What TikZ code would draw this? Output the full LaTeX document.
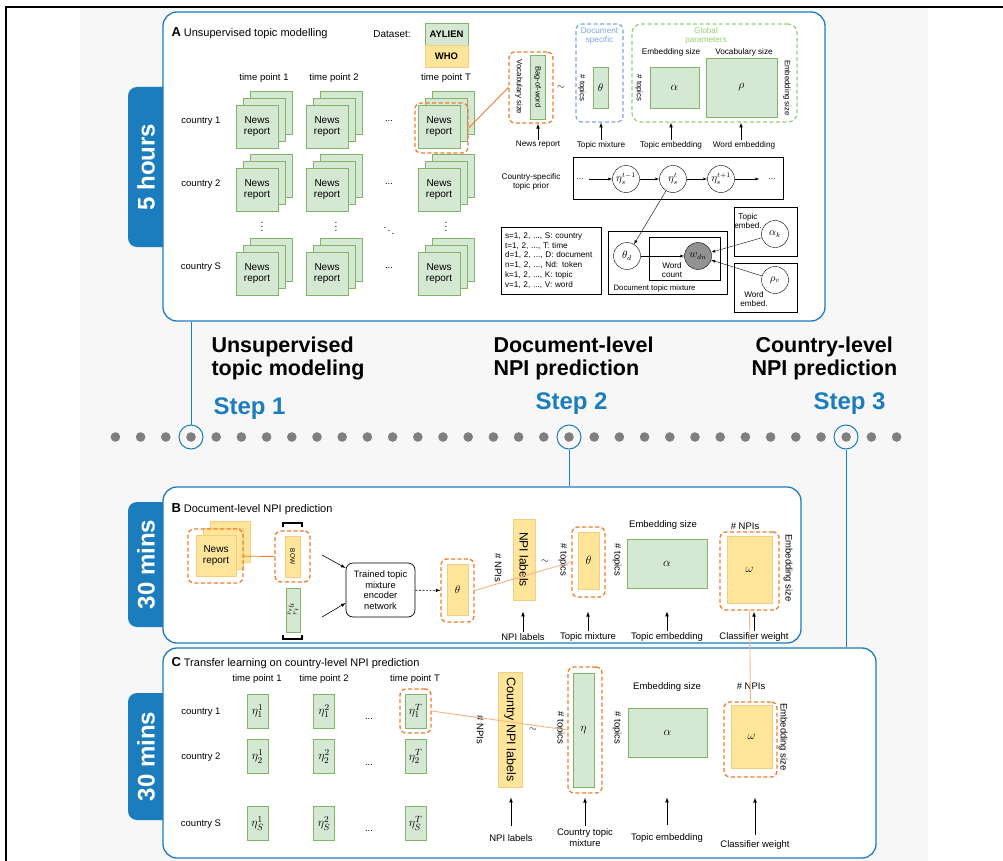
\documentclass[tikz,border=0pt]{standalone}
\usepackage{fontspec}
\setmainfont{Liberation Sans}
\usepackage{amsmath}

\definecolor{stepblue}{HTML}{1B7DBE}
\definecolor{bggray}{HTML}{F7F7F7}
\definecolor{gfill}{HTML}{D5E8D4}
\definecolor{gline}{HTML}{82B366}
\definecolor{yfill}{HTML}{FFE59A}
\definecolor{yline}{HTML}{F0D080}
\definecolor{selorange}{HTML}{F07D2C}
\definecolor{lightorange}{HTML}{F6B585}
\definecolor{docblue}{HTML}{7EA6E0}
\definecolor{globgreen}{HTML}{97D077}
\definecolor{dotgray}{HTML}{7F7F7F}
\definecolor{wgray}{HTML}{929292}

\begin{document}
\begin{tikzpicture}[x=1pt,y=-1pt,
  panel/.style={draw=stepblue,line width=1.3pt,fill=white,rounded corners=14pt,inner sep=0pt},
  tab/.style={fill=stepblue,rounded corners=9pt},
  tabtext/.style={rotate=90,text=white,font=\bfseries\fontsize{24}{26}\selectfont},
  gbox/.style={draw=gline,fill=gfill,line width=0.8pt,inner sep=0pt},
  ybox/.style={draw=yline,fill=yfill,line width=0.8pt,inner sep=0pt},
  sel/.style={draw=selorange,line width=1.3pt,dash pattern=on 4pt off 2.5pt,rounded corners=6pt,inner sep=0pt},
  title/.style={anchor=base west,font=\fontsize{11}{13}\selectfont},
  txt/.style={font=\fontsize{9.5}{11}\selectfont,align=center},
  lbl/.style={font=\fontsize{8.2}{9.5}\selectfont,align=center,inner sep=1pt},
  lblbig/.style={font=\fontsize{9.5}{11}\selectfont,align=center,inner sep=1pt},
  rot/.style={rotate=-90,font=\fontsize{7.8}{9}\selectfont},
  rotbig/.style={rotate=-90,font=\fontsize{9.5}{11}\selectfont},
  big/.style={font=\bfseries\fontsize{21.5}{23}\selectfont,anchor=base west},
  steptext/.style={font=\bfseries\fontsize{24}{26}\selectfont,text=stepblue,anchor=base west},
  var/.style={draw,circle,fill=white,minimum size=27pt,inner sep=0pt,font=\fontsize{10.5}{11}\selectfont},
  up/.style={-latex,line width=0.7pt},
  stepline/.style={draw=stepblue,line width=1pt},
]
\useasboundingbox (0,0) rectangle (1003,861);

% background and frame
\fill[bggray] (80,7) rectangle (928,861);
\draw[line width=1.5pt] (6,861) -- (6,7) -- (1003,7);

% ---------- panel A ----------
\fill[tab] (128,87) rectangle (185,247);
\node[panel,minimum width=662pt,minimum height=309pt] (panelA) at (494,166.5) {};
\node[tabtext] at (146,167) {5 hours};
\node[title] at (168,37) {\textbf{\fontsize{13}{13}\selectfont A}\hspace{3pt}Unsupervised topic modelling};

\node[txt,font=\fontsize{10}{12}\selectfont] at (392,34) {Dataset:};
\node[gbox,minimum width=43pt,minimum height=22pt,font=\bfseries\fontsize{9.5}{11}\selectfont] (aylien) at (446.5,34) {AYLIEN};
\node[ybox,minimum width=43pt,minimum height=22pt,font=\bfseries\fontsize{9.5}{11}\selectfont] (who) at (446.5,56) {WHO};

\foreach \x/\t in {264/1,334/2,446/T}
  \node[txt] at (\x,78) {time point \t};
\foreach \y/\c in {121/1,184/2,267/S}
  \node[txt] at (201,\y) {country \c};

% news report stacks
\foreach \x in {236,306,418}
  \foreach \y in {105,168,252} {
    \draw[gbox] (\x+14,\y-14) rectangle ++(42,43);
    \draw[gbox] (\x+7,\y-7) rectangle ++(42,43);
    \node[gbox,txt,font=\fontsize{10}{11.5}\selectfont,minimum width=42pt,minimum height=43pt] at (\x+21,\y+21.5) {News\\report};
  }
\foreach \y in {121,184,268}
  \node[txt] at (389,\y) {...};
\foreach \x in {262,336,446}
  \node at (\x,224) {$\vdots$};
\node at (389,228) {$\ddots$};

\node[sel,minimum width=53pt,minimum height=50pt] (selA) at (441.5,128) {};

% bag of word and parameters
\node[sel,minimum width=44pt,minimum height=71pt] (bowsel) at (531,87.5) {};
\node[gbox,minimum width=15pt,minimum height=64pt] (bow) at (537.5,87) {};
\node[rot,font=\fontsize{7.5}{9}\selectfont] at (bow) {Bag-of-word};
\node[rot] at (519,87) {Vocabulary size};
\draw[selorange,line width=0.9pt] (selA.east) -- (bowsel.west);
\node at (561,88) {$\sim$};

\node[draw=docblue,line width=1.2pt,dash pattern=on 4pt off 2.5pt,rounded corners=6pt,minimum width=47pt,minimum height=98pt] (docspec) at (599.5,73) {};
\node[lbl,text=docblue] at (599.5,36) {Document\\specific};
\node[rot] at (582,88) {\# topics};
\node[gbox,minimum width=15pt,minimum height=41pt,font=\fontsize{11}{11}\selectfont] (thetaA) at (600.5,87.5) {$\theta$};

\node[draw=globgreen,line width=1.2pt,dash pattern=on 4pt off 2.5pt,rounded corners=9pt,minimum width=165pt,minimum height=98pt] (global) at (714.5,73) {};
\node[lbl,text=globgreen] at (706,36) {Global\\parameters};
\node[lbl] at (671,52) {Embedding size};
\node[lbl] at (744,52) {Vocabulary size};
\node[rot] at (639,88) {\# topics};
\node[gbox,minimum width=49pt,minimum height=41pt,font=\fontsize{12}{12}\selectfont] (alphaA) at (674.5,87.5) {$\alpha$};
\node[gbox,minimum width=71pt,minimum height=59pt,font=\fontsize{12}{12}\selectfont] (rhoA) at (741.5,87.5) {$\rho$};
\node[rot] at (787,88) {Embedding size};

\node[lbl] (lnews) at (538,145) {News report};
\node[lbl] (lmix) at (601,145) {Topic mixture};
\node[lbl] (lemb) at (671,145) {Topic embedding};
\node[lbl] (lword) at (744,145) {Word embedding};
\draw[up] (lnews.north) -- (lnews.north |- bowsel.south);
\draw[up] (lmix.north) -- (lmix.north |- docspec.south);
\draw[up] (lemb.north) -- (lemb.north |- global.south);
\draw[up] ([xshift=-3pt]lword.north) -- ([xshift=-3pt]lword.north |- global.south);

% country-specific topic prior
\node[draw,line width=0.6pt,minimum width=210pt,minimum height=42pt] (prior) at (678,178) {};
\node[lbl] at (531,182) {Country-specific\\topic prior};
\node[lbl] (dl) at (580,179) {...};
\node[var] (eprev) at (626,179) {$\eta_s^{t-1}$};
\node[var] (ecur) at (673,179) {$\eta_s^{t}$};
\node[var] (enext) at (721,179) {$\eta_s^{t+1}$};
\node[lbl] (dr) at (772,179) {...};
\draw[-latex] ([xshift=4pt]dl.east) -- (eprev);
\draw[-latex] (eprev) -- (ecur);
\draw[-latex] (ecur) -- (enext);
\draw[-latex,shorten >=8pt] (enext) -- (dr);

% legend
\node[draw,line width=0.6pt,text width=92pt,align=left,inner xsep=4pt,minimum height=67pt,font=\fontsize{8.2}{9.8}\selectfont] (legend) at (551,260.5)
  {s=1, 2, ..., S: country\\t=1, 2, ..., T: time\\d=1, 2, ..., D: document\\n=1, 2, ..., Nd: token\\k=1, 2, ..., K: topic\\v=1, 2, ..., V: word};

% plate model
\node[draw,line width=0.6pt,minimum width=119pt,minimum height=63pt] (dtm) at (667.5,262.5) {};
\node[anchor=base west,font=\fontsize{7.8}{9}\selectfont] at (610,290) {Document topic mixture};
\node[draw,line width=0.6pt,minimum width=71pt,minimum height=43pt] (wcbox) at (684.5,258.5) {};
\node[lbl] at (672,270) {Word\\count};
\node[var] (thetad) at (627,256) {$\theta_d$};
\node[var,fill=wgray] (wdn) at (698,256) {$w_{dn}$};
\node[draw,line width=0.6pt,minimum width=63pt,minimum height=49pt] (tebox) at (765.5,231.5) {};
\node[lbl] at (748,221) {Topic\\embed.};
\node[var] (alphak) at (775,234) {$\alpha_k$};
\node[draw,line width=0.6pt,minimum width=63pt,minimum height=49pt] (webox) at (765.5,287.5) {};
\node[var] (rhov) at (775,280) {$\rho_v$};
\node[lbl] at (754,299) {Word\\embed.};
\draw[-latex] (ecur) -- (thetad);
\draw[-latex] (thetad) -- (wdn);
\draw[-latex] (alphak) -- (wdn);
\draw[-latex] (rhov) -- (wdn);

% ---------- steps ----------
\node[big] at (208,352) {Unsupervised};
\node[big] at (208,375) {topic modeling};
\node[big] at (490,352) {Document-level};
\node[big] at (490,375) {NPI prediction};
\node[big] at (752,352) {Country-level};
\node[big] at (748,375) {NPI prediction};
\node[steptext] at (210,414) {Step 1};
\node[steptext] at (532,409) {Step 2};
\node[steptext] at (810,409) {Step 3};

\foreach \k in {-3,...,28}
  \fill[dotgray] ({191+25.2*\k},437) circle (4.8pt);
\node[circle,stepline,minimum size=24pt] (s1) at (191,437) {};
\node[circle,stepline,minimum size=24pt] (s2) at (569,437) {};
\node[circle,stepline,minimum size=24pt] (s3) at (846,437) {};
\draw[stepline] (s1.north) -- (s1.north |- panelA.south);

% ---------- panel B ----------
\fill[tab] (128,502) rectangle (185,627);
\node[panel,minimum width=638pt,minimum height=156pt] (panelB) at (482,565) {};
\node[tabtext] at (146,564.5) {30 mins};
\node[title] at (168,512) {\textbf{\fontsize{13}{13}\selectfont B}\hspace{3pt}Document-level NPI prediction};
\draw[stepline] (s2.south) -- (s2.south |- panelB.north);

\draw[ybox] (210,521) rectangle ++(40,41);
\draw[ybox] (203,528) rectangle ++(40,41);
\node[ybox,txt,font=\fontsize{10}{11.5}\selectfont,minimum width=40pt,minimum height=41pt] (newsB) at (216,555.5) {News\\report};
\node[sel,minimum width=55pt,minimum height=54pt] (selnews) at (215.5,556) {};
\node[ybox,minimum width=15pt,minimum height=41pt] (bowB) at (292.5,556.5) {};
\node[rot,font=\fontsize{6.5}{8}\selectfont] at (bowB) {BOW};
\node[sel,minimum width=35pt,minimum height=51pt] (selbow) at (292.5,556.5) {};
\draw[selorange,line width=0.9pt] (selnews) -- (selbow);
\draw[line width=1.2pt] (283,527) -- (283,523) -- (302,523) -- (302,527);
\draw[line width=1.2pt] (283,635) -- (283,639) -- (302,639) -- (302,635);
\node[gbox,minimum width=14pt,minimum height=44pt] (etaB) at (293,610) {};
\node[rotate=-90,font=\fontsize{8.5}{9}\selectfont] at (etaB) {$\eta_{s_d}^{t_d}$};

\node[draw,line width=0.7pt,rounded corners=7pt,minimum width=69pt,minimum height=54pt,txt,font=\fontsize{9.3}{10.5}\selectfont] (enc) at (380.5,590) {Trained topic\\mixture\\encoder\\network};
\coordinate (inbow) at (322,555);
\coordinate (ineta) at (322,617);
\draw[-latex,line width=0.6pt] (inbow) -- ([yshift=22pt]enc.west);
\draw[-latex,line width=0.6pt] (ineta) -- ([yshift=-13pt]enc.west);

\node[ybox,minimum width=21pt,minimum height=51pt,font=\fontsize{11}{11}\selectfont] (thB) at (457.5,589.5) {$\theta$};
\node[sel,minimum width=33pt,minimum height=63pt] (thsel) at (457.5,590.5) {};
\draw[-latex,dash pattern=on 2pt off 1.5pt,line width=0.6pt] (enc) -- (thsel);

\node[rotbig] at (498,568) {\# NPIs};
\node[ybox,minimum width=22pt,minimum height=81pt] (npiB) at (524,559.5) {};
\node[rotate=-90,font=\fontsize{12}{14}\selectfont] at (npiB) {NPI labels};
\node at (545,562) {$\sim$};
\node[rotbig] at (563,560) {\# topics};
\node[ybox,minimum width=21pt,minimum height=57pt,font=\fontsize{12}{12}\selectfont] (th2B) at (588.5,560.5) {$\theta$};
\node[sel,minimum width=33pt,minimum height=70pt] (th2sel) at (588.5,562) {};
\draw[lightorange,line width=0.9pt] (thsel.east) -- (th2sel.west);
\node[rotbig] at (617,560) {\# topics};
\node[lblbig] at (663,525) {Embedding size};
\node[gbox,minimum width=80pt,minimum height=49pt,font=\fontsize{13}{13}\selectfont] (alphaB) at (667,563.5) {$\alpha$};
\node[lblbig] at (745,526) {\# NPIs};
\node[ybox,minimum width=45pt,minimum height=67pt,font=\fontsize{12}{12}\selectfont] (omB) at (749.5,569.5) {$\omega$};
\node[sel,minimum width=59pt,minimum height=78pt] (omsel) at (749.5,571) {};
\node[rotbig] at (788,568) {Embedding size};

\node[lblbig] (lnpiB) at (523,637) {NPI labels};
\node[lblbig] (lmixB) at (588,637) {Topic mixture};
\node[lblbig] (lembB) at (667,637) {Topic embedding};
\node[lblbig] (lclsB) at (754,637) {Classifier weight};
\draw[up,shorten >=11pt] (lnpiB.north) -- (lnpiB.north |- npiB.south);
\draw[up,shorten >=14pt] (lmixB.north) -- (lmixB.north |- th2sel.south);
\draw[up,shorten >=23pt] (lembB.north) -- (lembB.north |- alphaB.south);
\draw[up,shorten >=1pt] (lclsB.north) -- (lclsB.north |- omsel.south);

% ---------- panel C ----------
\fill[tab] (128,693) rectangle (185,820);
\node[panel,minimum width=713pt,minimum height=210pt] (panelC) at (519.5,753) {};
\node[tabtext] at (146,756.5) {30 mins};
\node[title] at (168,666) {\textbf{\fontsize{13}{13}\selectfont C}\hspace{3pt}Transfer learning on country-level NPI prediction};
\draw[stepline] (s3.south) -- (s3.south |- panelC.north);

\foreach \x/\t in {257/1,324/2,415/T}
  \node[txt] at (\x,679) {time point \t};
\foreach \y/\c in {712/1,757/2,824/S}
  \node[txt] at (201,\y) {country \c};
\foreach \x/\t in {257.5/1,324/2,415.5/T}
  \foreach \y/\c in {711/1,756.5/2,823.5/S}
    \node[gbox,minimum width=21pt,minimum height=34pt,font=\fontsize{13}{13}\selectfont] (eta\t\c) at (\x,\y) {$\eta^{\t}_{\c}$};
\foreach \y in {719,765,831}
  \node[txt] at (369,\y) {...};
\node[sel,minimum width=31pt,minimum height=44pt] (selC) at (415.5,711) {};

\node[rotbig] at (480,730) {\# NPIs};
\node[ybox,minimum width=24pt,minimum height=115pt] (cnpi) at (510,729.5) {};
\node[rotate=-90,font=\fontsize{12.5}{14}\selectfont] at (cnpi) {Country NPI labels};
\node at (533,730) {$\sim$};
\node[rotbig] at (560,728) {\# topics};
\node[gbox,minimum width=21pt,minimum height=114pt,font=\fontsize{12}{12}\selectfont] (etaC) at (583.5,730) {$\eta$};
\node[sel,minimum width=34pt,minimum height=126pt] (etasel) at (585,730) {};
\draw[lightorange,line width=0.9pt] (selC.east) -- (etasel.west);
\node[rotbig] at (617,728) {\# topics};
\node[lblbig] at (667,687) {Embedding size};
\node[gbox,minimum width=79pt,minimum height=49pt,font=\fontsize{13}{13}\selectfont] (alphaC) at (667.5,732.5) {$\alpha$};
\node[lblbig] at (751,686) {\# NPIs};
\node[ybox,minimum width=41pt,minimum height=63pt,font=\fontsize{12}{12}\selectfont] (omC) at (751.5,736.5) {$\omega$};
\node[sel,minimum width=53pt,minimum height=75pt] (omselC) at (750.5,739.5) {};
\node[rotbig] at (783,737) {Embedding size};
\draw[lightorange,line width=0.9pt] (omsel.south) -- (omselC.north);

\node[lblbig] (lnpiC) at (511,838) {NPI labels};
\node[lblbig] (lmixC) at (585,838) {Country topic\\mixture};
\node[lblbig] (lembC) at (667,838) {Topic embedding};
\node[lblbig] (lclsC) at (755,845) {Classifier weight};
\draw[up,shorten <=7pt,shorten >=10pt] (lnpiC.north) -- (lnpiC.north |- cnpi.south);
\draw[up,shorten <=2pt,shorten >=4pt] (lmixC.north) -- (lmixC.north |- etasel.south);
\draw[up,shorten <=7pt,shorten >=40pt] (lembC.north) -- (lembC.north |- alphaC.south);
\draw[up,shorten <=4pt,shorten >=20pt] (lclsC.north) -- (lclsC.north |- omselC.south);
\end{tikzpicture}
\end{document}
